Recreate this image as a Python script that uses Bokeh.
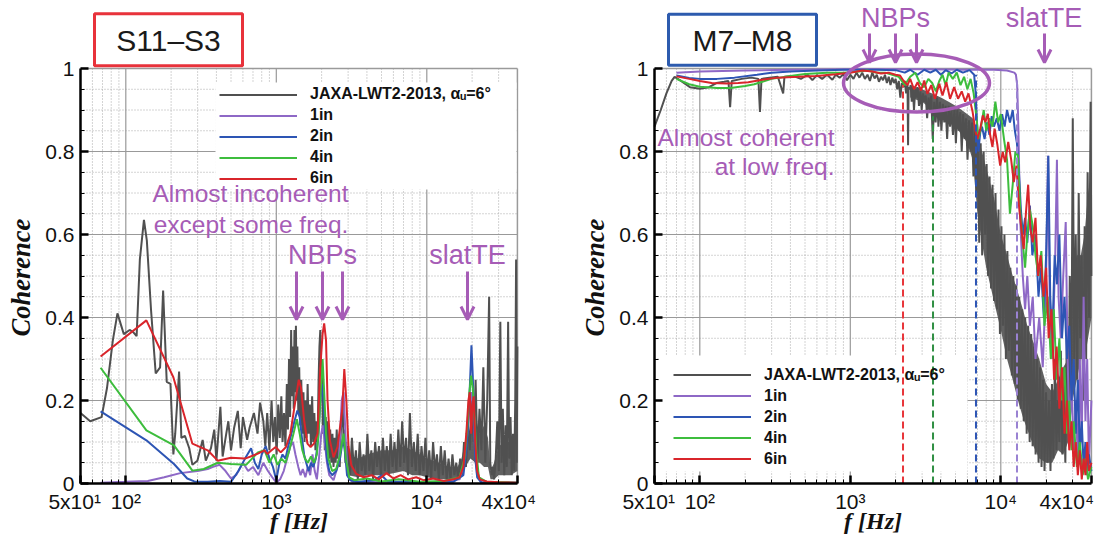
import math
from bokeh.plotting import figure
from bokeh.layouts import row
from bokeh.models import Range1d, FixedTicker, Label, Arrow, OpenHead, Legend, LegendItem
from bokeh.embed import file_html
from bokeh.resources import INLINE

# ---------------- axis definitions ----------------
X_TICKS = [50, 100, 1000, 10000, 40000]
X_TICK_LABELS = ["5x10\u00b9\u00a0\u00a0", "10\u00b2", "10\u00b3", "10\u2074", "4x10\u2074\u00a0\u00a0\u00a0"]
X_MINOR = [60, 70, 80, 90, 200, 300, 400, 500, 600, 700, 800, 900,
           2000, 3000, 4000, 5000, 6000, 7000, 8000, 9000, 20000, 30000]
X_MAJOR_GRID = [100, 1000, 10000]
Y_TICKS = [0, 0.2, 0.4, 0.6, 0.8, 1]
Y_TICK_LABELS = ["0", "0.2", "0.4", "0.6", "0.8", "1"]
Y_MINOR = [0.05, 0.1, 0.15, 0.25, 0.3, 0.35, 0.45, 0.5, 0.55, 0.65, 0.7, 0.75, 0.85, 0.9, 0.95]
Y_MAJOR_GRID = [0.2, 0.4, 0.6, 0.8]
SERIES_NAMES = ["JAXA-LWT2-2013, \u03b1\u1d64=6\u00b0", "1in", "2in", "4in", "6in"]

# ---------------- left panel (S11-S3) ----------------
GRAY_L_F = [50, 58, 69, 75, 82, 88, 97, 106, 112, 118, 124, 132, 138, 147, 158, 169, 177, 187, 198, 207,
            213, 226, 234, 247, 264, 277, 299, 324, 340, 368, 387, 400, 425, 440, 465, 480, 500, 525, 555, 580,
            600, 640, 665, 710, 750, 780, 820,
            845, 870, 900, 930, 955, 980, 1005, 1030, 1055, 1080, 1100, 1125, 1150, 1175, 1195, 1215, 1235, 1255, 1270, 1290,
            1305, 1320, 1335, 1350, 1365, 1380, 1400, 1420, 1440, 1465, 1490, 1515, 1540, 1565, 1590, 1615, 1640, 1670, 1700, 1730,
            1760, 1790, 1820, 1850, 1880, 1910, 1935, 1960, 1985, 2010, 2040, 2070, 2100, 2130, 2165, 2200, 2240, 2280, 2320, 2360,
            2400, 2440, 2480, 2520, 2560, 2600, 2640, 2680, 2720, 2760, 2800, 2840, 2880, 2920, 2960,
            3000, 3090, 3180, 3280, 3380, 3480, 3580, 3690, 3800, 3910, 4030, 4150, 4280, 4400, 4540, 4670, 4810, 4960, 5110, 5260,
            5420, 5580, 5750, 5920, 6100, 6280, 6470, 6660, 6860, 7070, 7280, 7500, 7720, 7960, 8200, 8440, 8700, 8960, 9220, 9500,
            9790, 10080, 10380, 10690, 11010, 11340, 11680, 12030, 12400, 12770, 13150, 13550, 13950, 14370, 14800, 15250, 15700, 16170, 16660, 17160,
            17670, 18200, 18750, 19310, 19890, 20490, 21100, 21740, 22390, 23060, 23750, 24470, 25200, 25950, 26400, 27000, 27500, 28000, 28700, 29400,
            30100, 30800, 31400, 32000, 32700, 33400, 34000, 34700, 35300, 36000, 36700, 37400, 38100, 38700, 39200, 39600, 40000]
GRAY_L_V = [0.17, 0.15, 0.16, 0.23, 0.345, 0.41, 0.36, 0.37, 0.365, 0.355, 0.54, 0.635, 0.585, 0.42, 0.265, 0.28, 0.465, 0.245, 0.24, 0.07,
            0.12, 0.27, 0.11, 0.115, 0.085, 0.045, 0.055, 0.105, 0.055, 0.085, 0.13, 0.055, 0.185, 0.065, 0.12, 0.15, 0.08, 0.135, 0.175, 0.085,
            0.16, 0.105, 0.135, 0.17, 0.12, 0.195, 0.15,
            0.09, 0.17, 0.08, 0.2, 0.1, 0.16, 0.07, 0.19, 0.11, 0.21, 0.1, 0.17, 0.09, 0.24, 0.13, 0.3, 0.16, 0.37, 0.21, 0.33,
            0.18, 0.37, 0.22, 0.38, 0.2, 0.33, 0.17, 0.28, 0.14, 0.25, 0.12, 0.22, 0.1, 0.2, 0.11, 0.24, 0.12, 0.19, 0.09, 0.21,
            0.1, 0.17, 0.08, 0.15, 0.1, 0.25, 0.33, 0.37, 0.26, 0.3, 0.12, 0.2, 0.08, 0.16, 0.07, 0.15, 0.06, 0.13, 0.05, 0.12,
            0.04, 0.11, 0.05, 0.13, 0.06, 0.1, 0.04, 0.12, 0.16, 0.2, 0.09, 0.13, 0.05, 0.1, 0.03,
            0.09, 0.02, 0.11, 0.03, 0.08, 0.01, 0.1, 0.03, 0.07, 0.02, 0.12, 0.03, 0.08, 0.01, 0.1, 0.04, 0.09, 0.02, 0.11, 0.03,
            0.09, 0.02, 0.12, 0.04, 0.1, 0.03, 0.13, 0.04, 0.15, 0.05, 0.11, 0.02, 0.17, 0.04, 0.1, 0.03, 0.12, 0.02, 0.09, 0.03,
            0.11, 0.02, 0.08, 0.01, 0.1, 0.03, 0.07, 0.01, 0.09, 0.02, 0.08, 0.01, 0.06, 0.01, 0.07, 0.02, 0.05, 0.01, 0.06, 0.02,
            0.1, 0.04, 0.15, 0.08, 0.2, 0.1, 0.25, 0.06, 0.18, 0.08, 0.28, 0.05, 0.2, 0.45, 0.05, 0.02, 0.04, 0.01, 0.06, 0.15,
            0.03, 0.39, 0.05, 0.18, 0.02, 0.14, 0.04, 0.39, 0.06, 0.16, 0.02, 0.12, 0.03, 0.2, 0.54, 0.05, 0.33]
# envelope of the dense high-frequency noise of the gray trace (left)
GRAY_L_BAND_F = [3000, 3500, 4000, 5000, 6000, 7000, 8000, 9000, 10000, 12000, 14000, 16000, 17000, 18000, 19500,
                 21000, 22500, 24000, 25500, 26500, 28000, 30000, 33000, 36000, 40000]
GRAY_L_BAND_LO = [0.02, 0.015, 0.02, 0.02, 0.025, 0.03, 0.02, 0.02, 0.015, 0.01, 0.01, 0.01, 0.02, 0.04, 0.06,
                  0.05, 0.05, 0.04, 0.04, 0.01, 0.01, 0.02, 0.02, 0.02, 0.03]
GRAY_L_BAND_HI = [0.07, 0.06, 0.07, 0.08, 0.08, 0.09, 0.08, 0.07, 0.06, 0.05, 0.04, 0.04, 0.06, 0.1, 0.13,
                  0.14, 0.12, 0.14, 0.11, 0.03, 0.05, 0.09, 0.1, 0.1, 0.12]

PURPLE_L_F = [68, 100, 140, 180, 230, 300, 350, 380, 420, 460, 500, 540, 600, 650, 700, 760, 820, 880, 940, 1000,
              1060, 1120, 1180, 1240, 1290, 1340, 1400, 1450, 1500, 1560, 1620, 1680, 1740, 1800, 1860, 1920, 1990, 2040, 2100, 2170,
              2250, 2400, 2600, 2720, 2800, 2880, 2980, 3200, 5000, 10000, 16500, 17800, 18600, 19300, 19800, 20300, 20900, 21600, 23000, 40000]
PURPLE_L_V = [0.002, 0.004, 0.006, 0.015, 0.025, 0.03, 0.035, 0.04, 0.045, 0.03, 0.012, 0.02, 0.05, 0.03, 0.04, 0.02, 0.05, 0.03, 0.015, 0.002,
              0.01, 0.03, 0.06, 0.09, 0.1, 0.07, 0.04, 0.02, 0.035, 0.015, 0.04, 0.02, 0.07, 0.03, 0.01, 0.06, 0.12, 0.14, 0.1, 0.05,
              0.02, 0.008, 0.05, 0.2, 0.22, 0.12, 0.02, 0.004, 0.003, 0.002, 0.01, 0.05, 0.12, 0.2, 0.22, 0.18, 0.09, 0.02, 0.003, 0.002]

BLUE_L_F = [68, 137, 209, 256, 285, 350, 420, 500, 560, 620, 680, 720, 760, 800, 850, 900, 950, 1000, 1050, 1100,
            1150, 1200, 1260, 1320, 1380, 1430, 1480, 1530, 1580, 1640, 1700, 1760, 1830, 1900, 1960, 2010, 2060, 2110, 2170, 2250,
            2350, 2500, 2650, 2780, 2870, 2950, 3100, 3500, 4500, 5000, 5500, 7000, 10000, 15000, 17500, 18300, 18900, 19400, 19800, 20200,
            20600, 21000, 21600, 23000, 30000, 40000]
BLUE_L_V = [0.174, 0.104, 0.047, 0.012, 0.005, 0.004, 0.006, 0.004, 0.03, 0.06, 0.085, 0.05, 0.035, 0.07, 0.09, 0.06, 0.04, 0.008, 0.05, 0.07,
            0.06, 0.09, 0.12, 0.15, 0.176, 0.16, 0.11, 0.07, 0.05, 0.03, 0.05, 0.04, 0.06, 0.11, 0.2, 0.24, 0.2, 0.12, 0.06, 0.03,
            0.02, 0.03, 0.06, 0.11, 0.07, 0.02, 0.008, 0.004, 0.008, 0.02, 0.005, 0.004, 0.003, 0.004, 0.02, 0.08, 0.15, 0.25, 0.333, 0.26,
            0.15, 0.06, 0.015, 0.003, 0.002, 0.002]

GREEN_L_F = [68, 137, 209, 277, 330, 408, 500, 630, 754, 835, 900, 960, 1020, 1080, 1150, 1220, 1300, 1370, 1430, 1490,
             1550, 1620, 1700, 1780, 1860, 1930, 1990, 2030, 2080, 2140, 2220, 2350, 2500, 2650, 2800, 2900, 3050, 3300, 4000, 5000,
             6500, 9000, 13000, 16500, 17800, 18600, 19200, 19700, 20200, 20800, 21400, 22200, 25000, 40000]
GREEN_L_V = [0.279, 0.128, 0.092, 0.031, 0.035, 0.05, 0.047, 0.045, 0.075, 0.08, 0.05, 0.07, 0.045, 0.06, 0.05, 0.08, 0.12, 0.155, 0.12, 0.08,
             0.06, 0.05, 0.065, 0.05, 0.07, 0.15, 0.25, 0.3, 0.22, 0.12, 0.06, 0.03, 0.035, 0.07, 0.12, 0.06, 0.015, 0.008, 0.012, 0.005,
             0.01, 0.004, 0.006, 0.015, 0.06, 0.14, 0.22, 0.26, 0.23, 0.15, 0.07, 0.015, 0.004, 0.002]

RED_L_F = [68, 137, 207, 277, 350, 408, 500, 620, 754, 835, 870, 930, 990, 1070, 1160, 1240, 1340, 1410, 1460, 1530,
           1610, 1690, 1780, 1880, 1960, 2030, 2080, 2140, 2190, 2270, 2400, 2550, 2740, 2830, 2920, 3020, 3150, 3400, 3800, 4300,
           4800, 5400, 6000, 6700, 7500, 8500, 9500, 11000, 13000, 15000, 16500, 17500, 18300, 18900, 19300, 19700, 20100, 20500, 21000, 21600,
           22500, 25000, 30000, 40000]
RED_L_V = [0.306, 0.393, 0.256, 0.096, 0.08, 0.055, 0.062, 0.06, 0.072, 0.08, 0.071, 0.08, 0.088, 0.075, 0.088, 0.12, 0.2, 0.25, 0.23, 0.153,
           0.096, 0.088, 0.096, 0.12, 0.28, 0.36, 0.386, 0.345, 0.2, 0.104, 0.063, 0.088, 0.176, 0.276, 0.2, 0.088, 0.044, 0.023, 0.015, 0.02,
           0.01, 0.025, 0.012, 0.02, 0.01, 0.015, 0.008, 0.012, 0.006, 0.01, 0.015, 0.04, 0.12, 0.2, 0.22, 0.12, 0.19, 0.21, 0.1, 0.03,
           0.01, 0.005, 0.003, 0.002]

# ---------------- right panel (M7-M8) ----------------
GRAY_R_F = [50, 55, 60, 65, 68, 75, 86, 100, 115, 129, 145, 155, 159, 163, 190, 220, 245, 251, 257, 290,
            330, 358, 365, 420, 470, 520, 560, 600, 650, 700, 760, 800, 850, 900, 950, 1000, 1050, 1100, 1150, 1200,
            1250, 1300, 1350, 1400, 1450, 1500, 1550, 1600, 1650, 1700, 1750, 1800, 1850, 1900, 1950, 2000, 2050, 2100, 2150, 2200,
            2250, 2300, 2350, 2400, 2420, 2440, 2480,
            2520, 2560, 2600, 2650, 2700, 2750, 2800, 2860, 2920, 2980, 3040, 3100, 3170, 3240, 3310, 3380, 3450, 3530, 3610, 3690,
            3770, 3850, 3940, 4030, 4120, 4210, 4300, 4400, 4500, 4600, 4700, 4810, 4920, 5030, 5140, 5260, 5380, 5500, 5620, 5750,
            5880, 6010, 6150, 6290, 6430, 6580, 6730, 6880,
            7030, 7190, 7350, 7520, 7690, 7870, 8050, 8230, 8420, 8610, 8810, 9010, 9220, 9430, 9650, 9870, 10100, 10330, 10570, 10810,
            11060, 11310, 11570, 11840, 12110, 12390, 12670, 12960, 13260, 13570, 13880, 14200, 14520, 14860, 15200, 15550, 15910, 16270, 16650, 17030,
            17420, 17820, 18230, 18650, 19080, 19520, 19970, 20430, 20900, 21380, 21870, 22370, 22890, 23410, 23950, 24500, 25070, 25640, 26230, 26840,
            27450, 28080, 28730, 29390, 30070, 30760, 31470, 32190, 32930, 33690, 34470, 35260, 36070, 36900, 37750, 38620, 39510, 40000]
GRAY_R_V = [0.86, 0.9, 0.94, 0.97, 0.98, 0.97, 0.955, 0.951, 0.955, 0.965, 0.968, 0.97, 0.907, 0.97, 0.975, 0.978, 0.975, 0.895, 0.975, 0.978,
            0.98, 0.94, 0.98, 0.982, 0.975, 0.985, 0.972, 0.984, 0.975, 0.985, 0.973, 0.985, 0.978, 0.986, 0.972, 0.985, 0.975, 0.99, 0.978, 0.99,
            0.975, 0.985, 0.97, 0.99, 0.976, 0.985, 0.968, 0.98, 0.972, 0.985, 0.965, 0.98, 0.96, 0.978, 0.965, 0.975, 0.95, 0.97, 0.93, 0.965,
            0.955, 0.97, 0.94, 0.96, 0.815, 0.955, 0.95,
            0.96, 0.92, 0.955, 0.9, 0.95, 0.93, 0.955, 0.91, 0.945, 0.9, 0.94, 0.92, 0.935, 0.88, 0.93, 0.9, 0.935, 0.83, 0.92, 0.87,
            0.93, 0.86, 0.92, 0.85, 0.915, 0.87, 0.91, 0.83, 0.91, 0.86, 0.9, 0.84, 0.905, 0.82, 0.9, 0.85, 0.895, 0.8, 0.89, 0.83,
            0.88, 0.78, 0.875, 0.8, 0.87, 0.74, 0.86, 0.7,
            0.84, 0.58, 0.82, 0.55, 0.8, 0.6, 0.77, 0.5, 0.74, 0.47, 0.72, 0.44, 0.7, 0.42, 0.66, 0.36, 0.62, 0.38, 0.6, 0.3,
            0.56, 0.32, 0.52, 0.26, 0.5, 0.24, 0.48, 0.2, 0.45, 0.18, 0.42, 0.15, 0.4, 0.12, 0.38, 0.1, 0.36, 0.09, 0.33, 0.07,
            0.3, 0.05, 0.28, 0.04, 0.25, 0.03, 0.22, 0.05, 0.2, 0.03, 0.24, 0.06, 0.3, 0.08, 0.2, 0.1, 0.32, 0.07, 0.22, 0.05,
            0.35, 0.12, 0.5, 0.2, 0.88, 0.3, 0.6, 0.25, 0.7, 0.35, 0.55, 0.2, 0.62, 0.3, 0.75, 0.4, 0.92, 0.5]
# envelope of the dense noise of the gray trace (right)
GRAY_R_BAND_F = [2500, 3000, 3500, 4000, 4500, 5000, 5500, 6000, 6500, 7000, 7500, 8000, 9000, 10000, 11000, 12000,
                 13000, 14000, 15000, 16500, 18000, 20000, 22000, 24000, 26000, 28000, 30000, 32000, 34000, 36000, 38000, 40000]
GRAY_R_BAND_LO = [0.93, 0.92, 0.9, 0.88, 0.87, 0.86, 0.84, 0.82, 0.78, 0.65, 0.58, 0.52, 0.44, 0.37, 0.3, 0.25,
                  0.2, 0.16, 0.13, 0.09, 0.06, 0.05, 0.05, 0.08, 0.07, 0.1, 0.2, 0.25, 0.3, 0.3, 0.35, 0.4]
GRAY_R_BAND_HI = [0.96, 0.95, 0.94, 0.93, 0.92, 0.91, 0.9, 0.89, 0.88, 0.84, 0.8, 0.76, 0.69, 0.6, 0.55, 0.5,
                  0.46, 0.42, 0.38, 0.34, 0.3, 0.24, 0.22, 0.25, 0.28, 0.3, 0.5, 0.55, 0.55, 0.6, 0.7, 0.75]

PURPLE_R_F = [70, 100, 200, 400, 1000, 3000, 6000, 9000, 11000, 12300, 12600, 12850, 13100, 13400, 14000, 14500, 15000, 15600, 16300, 17000,
              18000, 19000, 20000, 20600, 21200, 22000, 23000, 23600, 24200, 25000, 26000, 27000, 27800, 28600, 29500, 30500, 31500, 32500, 33500, 34500,
              35500, 36500, 37500, 38500, 40000]
PURPLE_R_V = [0.99, 0.993, 0.995, 0.997, 0.998, 0.998, 0.997, 0.997, 0.995, 0.99, 0.985, 0.96, 0.85, 0.65, 0.5, 0.42, 0.5, 0.38, 0.45, 0.3,
              0.4, 0.28, 0.5, 0.79, 0.4, 0.3, 0.55, 0.78, 0.45, 0.35, 0.5, 0.63, 0.3, 0.12, 0.25, 0.08, 0.2, 0.05, 0.3, 0.1,
              0.45, 0.15, 0.3, 0.05, 0.2]

BLUE_R_F = [70, 85, 100, 130, 170, 240, 300, 400, 600, 900, 1500, 2000, 2300, 2500, 2800, 3100, 3400, 3700, 4000, 4300,
            4700, 5100, 5600, 6200, 6650, 6800, 6950, 7100, 7300, 7500, 7800, 8100, 8400, 8700, 9000, 9400, 9800, 10200, 10600, 11000,
            11500, 12000, 12400, 12800, 13200, 13600, 14000, 14500, 15000, 15600, 16200, 17000, 17800, 18500, 19300, 20000, 20700, 21300, 22000, 22800,
            23600, 24500, 25500, 26500, 27500, 28500, 29500, 30500, 31500, 32500, 33500, 34500, 35500, 36500, 37500, 38500, 40000]
BLUE_R_V = [0.983, 0.977, 0.975, 0.975, 0.978, 0.985, 0.99, 0.993, 0.995, 0.997, 0.997, 0.996, 0.99, 0.997, 0.985, 0.997, 0.99, 0.997, 0.985, 0.996,
            0.988, 0.997, 0.99, 0.996, 0.985, 0.943, 0.87, 0.8, 0.846, 0.86, 0.83, 0.87, 0.84, 0.885, 0.86, 0.88, 0.85, 0.89, 0.86, 0.9,
            0.87, 0.9, 0.85, 0.82, 0.75, 0.66, 0.6, 0.64, 0.58, 0.67, 0.55, 0.6, 0.45, 0.52, 0.4, 0.55, 0.79, 0.45, 0.35, 0.55,
            0.48, 0.6, 0.35, 0.45, 0.3, 0.38, 0.2, 0.3, 0.12, 0.25, 0.08, 0.15, 0.04, 0.1, 0.02, 0.07, 0.03]

GREEN_R_F = [70, 85, 100, 130, 160, 200, 230, 260, 300, 400, 500, 700, 900, 1100, 1300, 1500, 1700, 1900, 2100, 2300,
             2500, 2700, 2900, 3100, 3300, 3500, 3700, 3900, 4100, 4300, 4500, 4800, 5100, 5400, 5700, 6000, 6300, 6600, 6900, 7100,
             7400, 7700, 8000, 8400, 8800, 9200, 9600, 10000, 10500, 11000, 11500, 12000, 12500, 13000, 13500, 14000, 14500, 15000, 15600, 16300,
             17000, 17800, 18600, 19500, 20500, 21500, 22500, 23500, 24500, 25500, 26500, 27500, 28500, 29500, 30500, 32000, 33500, 35000, 36500, 38000,
             40000]
GREEN_R_V = [0.975, 0.962, 0.956, 0.953, 0.953, 0.958, 0.962, 0.968, 0.975, 0.982, 0.987, 0.99, 0.99, 0.992, 0.995, 0.99, 0.99, 0.985, 0.98, 0.96,
             0.98, 0.99, 0.965, 0.955, 0.975, 0.965, 0.945, 0.97, 0.985, 0.96, 0.99, 0.975, 0.99, 0.96, 0.98, 0.95, 0.975, 0.94, 0.88, 0.83,
             0.86, 0.9, 0.85, 0.88, 0.86, 0.92, 0.87, 0.89, 0.83, 0.78, 0.65, 0.72, 0.8, 0.79, 0.65, 0.58, 0.52, 0.6, 0.66, 0.62,
             0.55, 0.5, 0.56, 0.38, 0.45, 0.3, 0.42, 0.25, 0.35, 0.2, 0.28, 0.12, 0.2, 0.08, 0.15, 0.04, 0.1, 0.02, 0.06, 0.01,
             0.04]

RED_R_F = [70, 85, 100, 120, 150, 180, 210, 260, 330, 450, 600, 800, 1000, 1200, 1400, 1600, 1800, 2000, 2140, 2250,
           2400, 2500, 2650, 2800, 2950, 3100, 3250, 3450, 3650, 3900, 4100, 4350, 4600, 4900, 5200, 5500, 5800, 6100, 6500, 6800,
           7000, 7300, 7600, 7900, 8200, 8500, 8800, 9100, 9500, 9900, 10300, 10700, 11200, 11700, 12200, 12700, 13200, 13700, 14200, 14700,
           15200, 15700, 16300, 17000, 17700, 18400, 19200, 20000, 20800, 21700, 22600, 23500, 24500, 25500, 26500, 27500, 28500, 29500, 30500, 31500,
           32500, 33500, 34500, 35500, 36500, 37500, 38500, 40000]
RED_R_V = [0.981, 0.975, 0.97, 0.965, 0.964, 0.965, 0.967, 0.973, 0.978, 0.98, 0.982, 0.986, 0.99, 0.995, 0.993, 0.988, 0.99, 0.985, 0.983, 0.971,
           0.96, 0.975, 0.95, 0.967, 0.947, 0.971, 0.939, 0.96, 0.927, 0.963, 0.935, 0.967, 0.927, 0.955, 0.927, 0.945, 0.92, 0.94, 0.895, 0.847,
           0.83, 0.855, 0.887, 0.871, 0.891, 0.839, 0.811, 0.855, 0.815, 0.766, 0.799, 0.774, 0.823, 0.782, 0.726, 0.766, 0.67, 0.613, 0.565, 0.654,
           0.72, 0.613, 0.581, 0.64, 0.5, 0.55, 0.45, 0.52, 0.35, 0.42, 0.25, 0.33, 0.18, 0.28, 0.12, 0.2, 0.08, 0.15, 0.04, 0.1,
           0.02, 0.08, 0.01, 0.06, 0.02, 0.1, 0.03, 0.05]

# cut-off markers (dashed verticals) in the right panel: red, green, blue, purple
DASH_F = [2240, 3545, 6840, 12810]
DASH_TOP = [0.96, 0.885, 0.985, 0.975]

# ---------------- styles ----------------
C_GRAY = "#505050"
C_PURPLE = "#8E68C6"
C_BLUE = "#2D55B4"
C_GREEN = "#3DBD3D"
C_RED = "#D9252B"
C_NOTE = "#A65CB6"
DASH_COLORS = ["#E8353A", "#2F8F43", "#2D55B4", "#9A82D2"]
SANS = "Liberation Sans"
SERIF = "Liberation Serif"

Y0_PX = 483.0          # pixel row of coherence 0
PX_PER_UNIT = 415.0    # pixels per coherence unit
PX_PER_DEC = 150.5     # pixels per decade
F_MIN, F_MAX = 50, 40000
H = 534


def fx(px, x0):
    return F_MIN * 10 ** ((px - x0) / PX_PER_DEC)


def fy(py):
    return (Y0_PX - py) / PX_PER_UNIT


def make_panel(x0, width, series, band, title, title_color, title_box, legend_xy, legend_bg):
    # the plotting frame covers the whole canvas; the axes sit at fixed data locations
    p = figure(width=width, height=H, x_axis_type="log",
               x_range=Range1d(fx(0, x0), fx(width, x0)),
               y_range=Range1d(fy(H), fy(0)),
               output_backend="svg", toolbar_location=None,
               min_border_left=0, min_border_right=0, min_border_top=0, min_border_bottom=0)
    p.outline_line_color = None
    p.grid.visible = False
    p.background_fill_color = "white"
    p.border_fill_color = "white"

    xa, ya = p.xaxis[0], p.yaxis[0]
    xa.fixed_location = 0
    ya.fixed_location = F_MIN
    xa.bounds = (F_MIN, F_MAX)
    ya.bounds = (0, 1)
    xa.ticker = FixedTicker(ticks=X_TICKS, minor_ticks=X_MINOR)
    xa.major_label_overrides = dict(zip(X_TICKS, X_TICK_LABELS))
    ya.ticker = FixedTicker(ticks=Y_TICKS, minor_ticks=Y_MINOR)
    ya.major_label_overrides = dict(zip(Y_TICKS, Y_TICK_LABELS))
    for ax in (xa, ya):
        ax.axis_line_width = 2.5
        ax.axis_line_color = "black"
        ax.major_tick_in = 8
        ax.major_tick_out = 0
        ax.major_tick_line_width = 2.5
        ax.minor_tick_in = 4
        ax.minor_tick_out = 0
        ax.minor_tick_line_width = 1
        ax.major_label_text_font = SANS
        ax.major_label_text_font_size = "21px"
        ax.major_label_text_color = "#111111"
        ax.major_label_standoff = 6

    # grid (limited to the 0..1 box)
    n = len(X_MINOR)
    p.segment(x0=X_MINOR, y0=[0] * n, x1=X_MINOR, y1=[1] * n, line_color="#a8a8a8", line_width=1, line_dash="1 2")
    n = len(Y_MINOR)
    p.segment(x0=[F_MIN] * n, y0=Y_MINOR, x1=[F_MAX] * n, y1=Y_MINOR, line_color="#a8a8a8", line_width=1, line_dash="1 2")
    n = len(X_MAJOR_GRID)
    p.segment(x0=X_MAJOR_GRID, y0=[0] * n, x1=X_MAJOR_GRID, y1=[1] * n, line_color="#999999", line_width=1.2)
    n = len(Y_MAJOR_GRID)
    p.segment(x0=[F_MIN] * n, y0=Y_MAJOR_GRID, x1=[F_MAX] * n, y1=Y_MAJOR_GRID, line_color="#999999", line_width=1.2)
    # top / right frame edges
    p.segment(x0=[F_MIN, F_MAX], y0=[1, 0], x1=[F_MAX, F_MAX], y1=[1, 1], line_color="#9a9a9a", line_width=1.5)

    # white area behind the legend
    l, r, t, b = legend_bg
    p.quad(left=[fx(l, x0)], right=[fx(r, x0)], top=[fy(t)], bottom=[fy(b)],
           fill_color="white", line_color=None)

    # dense noise envelope of the gray trace
    bf, blo, bhi = band
    p.varea(x=bf, y1=blo, y2=bhi, fill_color=C_GRAY, fill_alpha=0.9)

    renderers = []
    for (F, V, col) in series:
        renderers.append(p.line(F, V, line_color=col, line_width=2))

    legend = Legend(items=[LegendItem(label=nm, renderers=[rr]) for nm, rr in zip(SERIES_NAMES, renderers)],
                    location=legend_xy, orientation="vertical",
                    glyph_width=78, glyph_height=21, label_height=21, label_width=10,
                    spacing=0, padding=0, margin=0, label_standoff=13,
                    border_line_alpha=0, background_fill_alpha=0,
                    label_text_font=SANS, label_text_font_style="bold",
                    label_text_font_size="16px", label_text_color="#111111")
    p.add_layout(legend)

    # title box
    cx, cy, w, h = title_box
    p.rect(x=[fx(cx, x0)], y=[fy(cy)], width=w, height=h, width_units="screen", height_units="screen",
           fill_color="white", line_color=title_color, line_width=3)
    p.add_layout(Label(x=fx(cx, x0), y=fy(cy + 1), text=title, text_align="center", text_baseline="middle",
                       text_font=SANS, text_font_size="30px", text_color="#1a1a1a"))

    # axis titles
    p.add_layout(Label(x=fx(x0 - 59.5, x0), y=fy(277), text="Coherence", angle=math.pi / 2,
                       text_align="center", text_baseline="middle", text_font=SERIF,
                       text_font_style="bold italic", text_font_size="26.5px", text_color="#111111"))
    p.add_layout(Label(x=fx(x0 + 218.5, x0), y=fy(533), text="f [Hz]", text_align="center",
                       text_baseline="bottom", text_font=SERIF, text_font_style="bold italic",
                       text_font_size="24px", text_color="#111111"))
    return p


def note(p, x0, px, py, text, size, align="center"):
    p.add_layout(Label(x=fx(px, x0), y=fy(py), text=text, text_align=align, text_baseline="middle",
                       text_font=SANS, text_font_size=size, text_color=C_NOTE))


def arrow(p, x0, px, py0, py1):
    p.add_layout(Arrow(end=OpenHead(size=13, line_color=C_NOTE, line_width=3),
                       x_start=fx(px, x0), y_start=fy(py0), x_end=fx(px, x0), y_end=fy(py1),
                       line_color=C_NOTE, line_width=3))


# ---------------- left figure ----------------
XL = 80
left_series = [(GRAY_L_F, GRAY_L_V, C_GRAY), (PURPLE_L_F, PURPLE_L_V, C_PURPLE), (BLUE_L_F, BLUE_L_V, C_BLUE),
               (GREEN_L_F, GREEN_L_V, C_GREEN), (RED_L_F, RED_L_V, C_RED)]
p1 = make_panel(XL, 560, left_series, (GRAY_L_BAND_F, GRAY_L_BAND_LO, GRAY_L_BAND_HI),
                "S11\u2013S3", "#E8323B", (168, 39.3, 148, 52),
                (219, H - 188.5), (215, 516, 82, 189))
note(p1, XL, 250, 192.5, "Almost incoherent", "24.5px")
note(p1, XL, 250.5, 223.5, "except some freq.", "24.5px")
note(p1, XL, 322, 254, "NBPs", "27px")
note(p1, XL, 467, 254, "slatTE", "27px")
for ax_px in (296, 322, 342, 467):
    arrow(p1, XL, ax_px, 271, 319)

# ---------------- right figure ----------------
XR = 94  # frame left inside the right figure (654 - 560)
right_series = [(GRAY_R_F, GRAY_R_V, C_GRAY), (PURPLE_R_F, PURPLE_R_V, C_PURPLE), (BLUE_R_F, BLUE_R_V, C_BLUE),
                (GREEN_R_F, GREEN_R_V, C_GREEN), (RED_R_F, RED_R_V, C_RED)]
p2 = make_panel(XR, 551, right_series, (GRAY_R_BAND_F, GRAY_R_BAND_LO, GRAY_R_BAND_HI),
                "M7\u2013M8", "#2D5BAE", (742 - 560, 39.3, 148, 51),
                (673 - 560, H - 469), (659 - 560, 967 - 560, 355, 471))

# dashed cut-off markers
for f, top, col in zip(DASH_F, DASH_TOP, DASH_COLORS):
    p2.segment(x0=[f], y0=[0], x1=[f], y1=[top], line_color=col, line_width=2, line_dash="7 4")

# ellipse around the NBP region
p2.ellipse(x=[fx(916 - 560, XR)], y=[fy(82.6)], width=146, height=58, width_units="screen", height_units="screen",
           fill_color=None, line_color=C_NOTE, line_width=3.5)
note(p2, XR, 895 - 560, 17.5, "NBPs", "27px")
note(p2, XR, 1043.5 - 560, 17.5, "slatTE", "27px")
for ax_px in (869, 895, 916, 1044):
    arrow(p2, XR, ax_px - 560, 33, 62)
note(p2, XR, 834 - 560, 136.5, "Almost coherent", "24.5px", align="right")
note(p2, XR, 834 - 560, 165.5, "at low freq.", "24.5px", align="right")

layout = row(p1, p2)
open("out.html", "w").write(file_html(layout, INLINE))
